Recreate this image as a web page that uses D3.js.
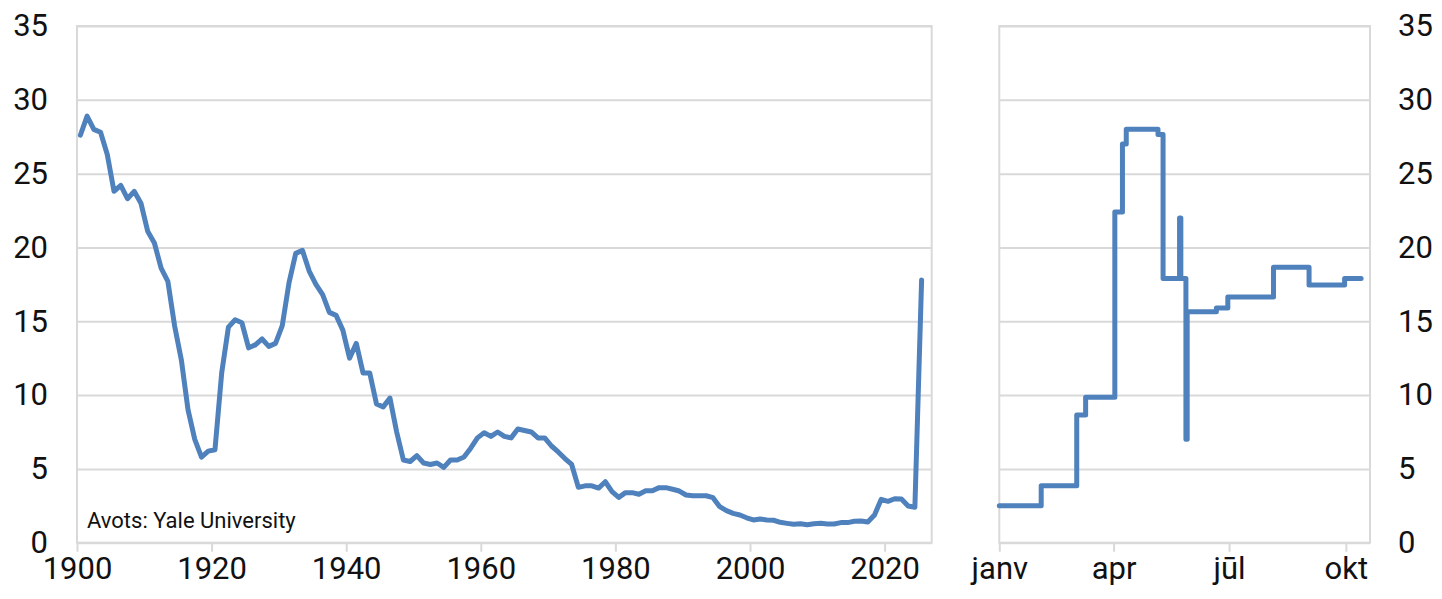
<!DOCTYPE html>
<html>
<head>
<meta charset="utf-8">
<script src="https://cdn.jsdelivr.net/npm/d3@7"></script>
<style>
  html, body { margin: 0; padding: 0; background: #fff; }
  svg { display: block; }
  text { font-family: Roboto, "Noto Sans", sans-serif; fill: #111; }
</style>
</head>
<body>
<svg id="chart" width="1442" height="599"></svg>
<script>
// ---------- DATA ----------
const firstYear = 1900;
const annualValues = [
  27.6, 28.9, 28.0, 27.8, 26.3, 23.8, 24.2, 23.3, 23.8, 23.0,
  21.1, 20.3, 18.6, 17.7, 14.7, 12.4, 9.0, 7.0, 5.8, 6.2,
  6.3, 11.5, 14.6, 15.1, 14.9, 13.2, 13.4, 13.8, 13.3, 13.5,
  14.7, 17.6, 19.6, 19.8, 18.4, 17.5, 16.8, 15.6, 15.4, 14.4,
  12.5, 13.5, 11.5, 11.5, 9.4, 9.2, 9.8, 7.5, 5.6, 5.5,
  5.9, 5.4, 5.3, 5.4, 5.1, 5.6, 5.6, 5.8, 6.4, 7.1,
  7.45, 7.2, 7.5, 7.2, 7.1, 7.7, 7.6, 7.5, 7.1, 7.1,
  6.55, 6.15, 5.7, 5.3, 3.75, 3.85, 3.85, 3.7, 4.13, 3.46,
  3.07, 3.39, 3.39, 3.28, 3.52, 3.52, 3.73, 3.73, 3.62, 3.5,
  3.23, 3.18, 3.18, 3.18, 3.05, 2.44, 2.17, 1.99, 1.88, 1.69,
  1.54, 1.61, 1.54, 1.52, 1.38, 1.31, 1.25, 1.29, 1.22, 1.29,
  1.31, 1.27, 1.27, 1.36, 1.36, 1.45, 1.47, 1.40, 1.88, 2.94,
  2.8, 2.98, 2.96, 2.49, 2.40, 17.8
];
const annualYears = annualValues.map((_, i) => firstYear + i);
const yearTicks = [1900, 1920, 1940, 1960, 1980, 2000, 2020];

const dailyDates = [
  "2025-01-01", "2025-02-03", "2025-03-03", "2025-03-10", "2025-04-02",
  "2025-04-08", "2025-04-11", "2025-05-06", "2025-05-10", "2025-05-23",
  "2025-05-24", "2025-05-28", "2025-05-29", "2025-06-21", "2025-06-30",
  "2025-08-05", "2025-09-02", "2025-09-30", "2025-10-13"
];
const dailyValues = [
  2.5, 3.85, 8.65, 9.85, 22.4,
  27.0, 28.0, 27.65, 17.9, 22.0,
  17.9, 7.0, 15.65, 15.9, 16.65,
  18.65, 17.45, 17.9, 17.9
];
const monthTickDates = ["2025-01-01", "2025-04-01", "2025-07-01", "2025-10-01"];
const monthTickLabels = ["janv", "apr", "jūl", "okt"];

const yTicks = [0, 5, 10, 15, 20, 25, 30, 35];
const sourceNote = "Avots: Yale University";

// ---------- LAYOUT ----------
const svg = d3.select("#chart");
const plotTop = 26, plotBottom = 542.7;
const lineColor = "#4f81bd";
const gridColor = "#d9d9d9";
const labelSize = 31;

const y = d3.scaleLinear().domain([0, 35]).range([plotBottom, plotTop]);

// left panel
const xL = d3.scaleLinear().domain([1900, 2027]).range([77, 931.7]);
// right panel
const parse = d3.utcParse("%Y-%m-%d");
const xR = d3.scaleUtc().domain([parse("2025-01-01"), parse("2025-10-20")]).range([999.3, 1370]);

function panel(x0, x1) {
  const g = svg.append("g");
  g.append("g")
    .attr("transform", `translate(${x0},0)`)
    .call(d3.axisLeft(y).tickValues(yTicks).tickSize(-(x1 - x0)).tickFormat(""))
    .call(a => a.select(".domain").remove())
    .call(a => a.selectAll("line").attr("stroke", gridColor).attr("stroke-width", 2));
  g.append("rect")
    .attr("x", x0).attr("y", plotTop)
    .attr("width", x1 - x0).attr("height", plotBottom - plotTop)
    .attr("fill", "none").attr("stroke", gridColor).attr("stroke-width", 2);
  return g;
}

panel(xL.range()[0], xL.range()[1]);
panel(xR.range()[0], xR.range()[1]);

// left y axis labels
svg.append("g")
  .attr("transform", `translate(${xL.range()[0]},0)`)
  .call(d3.axisLeft(y).tickValues(yTicks).tickSize(0).tickPadding(29))
  .call(a => a.select(".domain").remove())
  .call(a => a.selectAll("text").style("font-size", labelSize + "px").attr("fill", "#111"));

// right y axis labels
svg.append("g")
  .attr("transform", `translate(${xR.range()[1]},0)`)
  .call(d3.axisRight(y).tickValues(yTicks).tickSize(0).tickPadding(28))
  .call(a => a.select(".domain").remove())
  .call(a => a.selectAll("text").style("font-size", labelSize + "px").attr("fill", "#111"));

// left x axis
svg.append("g")
  .attr("transform", `translate(0,${plotBottom})`)
  .call(d3.axisBottom(xL).tickValues(yearTicks).tickSize(9).tickPadding(5).tickFormat(d3.format("d")))
  .call(a => a.select(".domain").remove())
  .call(a => a.selectAll("line").attr("stroke", gridColor).attr("stroke-width", 2))
  .call(a => a.selectAll("text").style("font-size", labelSize + "px").attr("fill", "#111"));

// right x axis
svg.append("g")
  .attr("transform", `translate(0,${plotBottom})`)
  .call(d3.axisBottom(xR).tickValues(monthTickDates.map(parse)).tickSize(9).tickPadding(5)
    .tickFormat((d, i) => monthTickLabels[i]))
  .call(a => a.select(".domain").remove())
  .call(a => a.selectAll("line").attr("stroke", gridColor).attr("stroke-width", 2))
  .call(a => a.selectAll("text").style("font-size", labelSize + "px").attr("fill", "#111"));

// left line
const annual = annualYears.map((yr, i) => ({ x: yr + 0.5, v: annualValues[i] }));
svg.append("path")
  .datum(annual)
  .attr("fill", "none")
  .attr("stroke", lineColor)
  .attr("stroke-width", 5)
  .attr("stroke-linejoin", "round")
  .attr("stroke-linecap", "round")
  .attr("d", d3.line().x(d => xL(d.x)).y(d => y(d.v)));

// right line
const daily = dailyDates.map((d, i) => ({ d: parse(d), v: dailyValues[i] }));
svg.append("path")
  .datum(daily)
  .attr("fill", "none")
  .attr("stroke", lineColor)
  .attr("stroke-width", 5)
  .attr("stroke-linejoin", "round")
  .attr("stroke-linecap", "round")
  .attr("d", d3.line().curve(d3.curveStepAfter).x(d => xR(d.d)).y(d => y(d.v)));

// source note
svg.append("text")
  .attr("x", 87).attr("y", 528)
  .style("font-size", "22px")
  .text(sourceNote);
</script>
</body>
</html>
